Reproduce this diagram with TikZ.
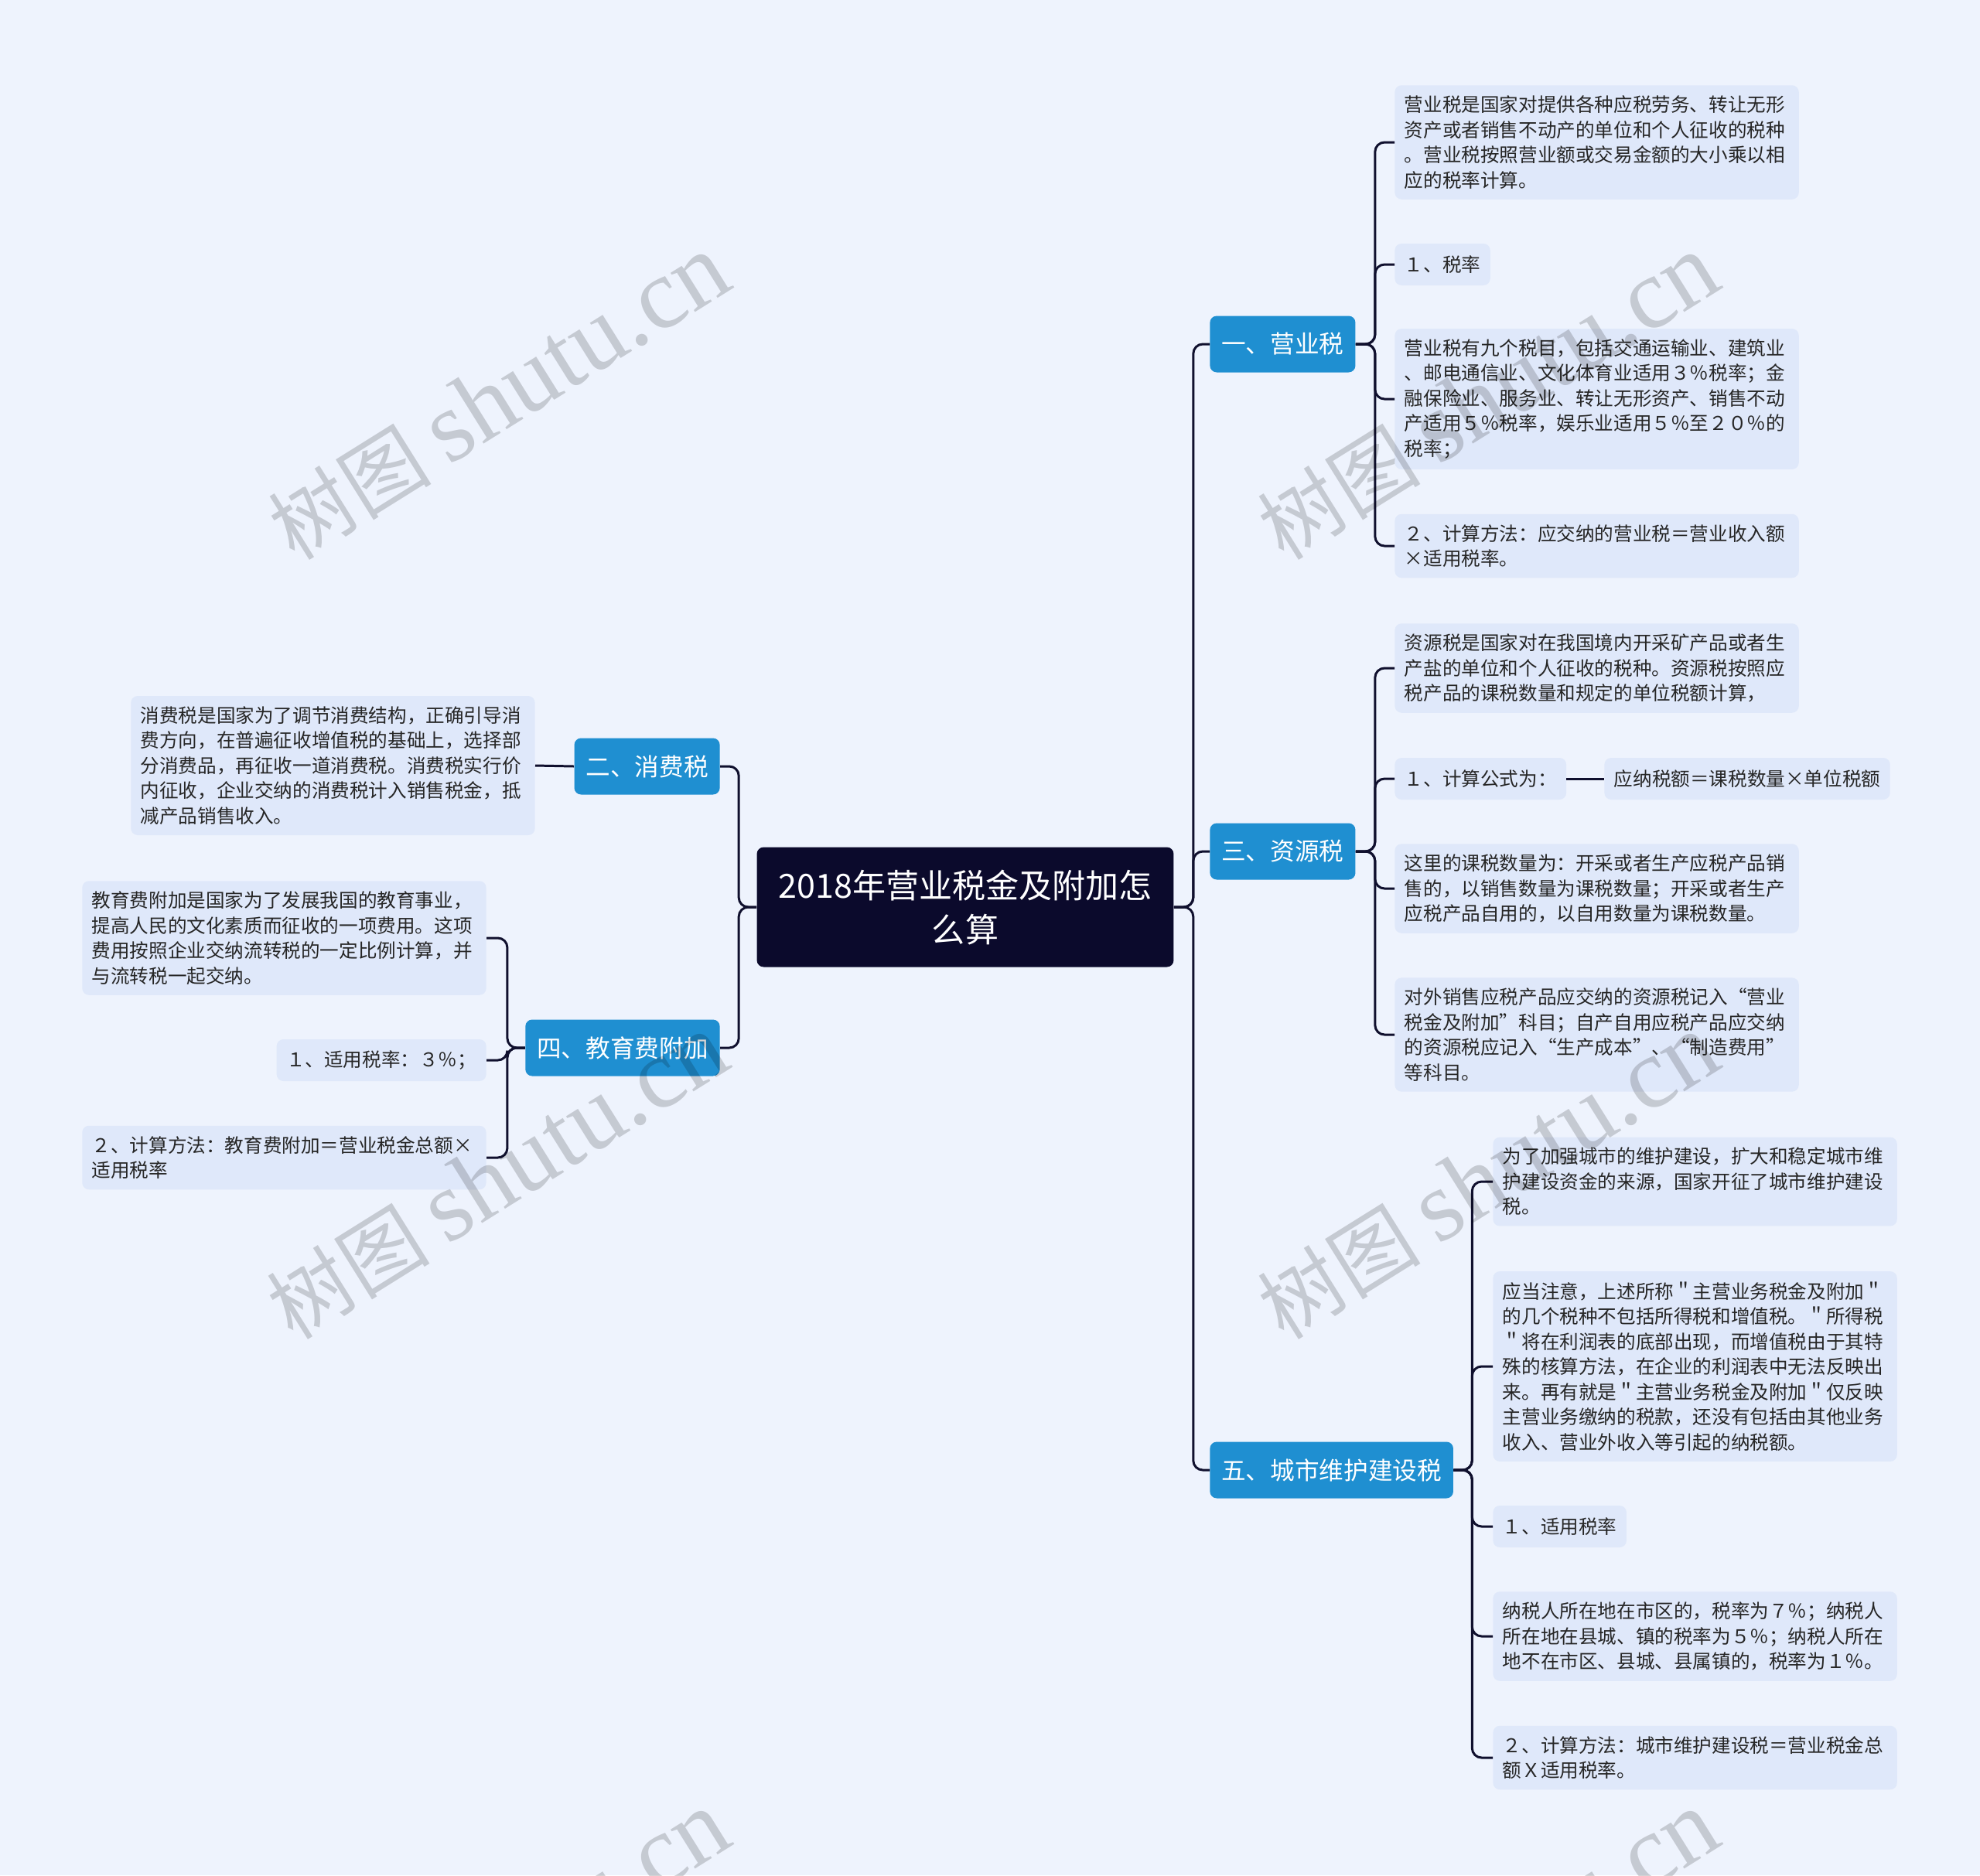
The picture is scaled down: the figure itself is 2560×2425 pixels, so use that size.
\documentclass[tikz,border=0pt]{standalone}
\usepackage{fontspec}
\setmainfont{Noto Sans CJK SC}
\newfontfamily\wmserif{Liberation Serif}
\usetikzlibrary{positioning}
\definecolor{bgblue}{HTML}{EEF3FD}
\definecolor{leafblue}{HTML}{DFE8FA}
\definecolor{branchblue}{HTML}{1F8FD1}
\definecolor{rootnavy}{HTML}{0B0A2C}
\definecolor{linknavy}{HTML}{10102E}
\begin{document}
\begin{tikzpicture}[x=0.02cm, y=-0.02cm,
    root/.style={fill=rootnavy, text=white, rounded corners=5pt, minimum width=10.78cm,
      minimum height=3.1cm, align=center, font=\fontsize{24.5}{32.4}\selectfont},
    branch/.style={fill=branchblue, text=white, rounded corners=5pt, minimum height=1.46cm,
      inner xsep=0.3cm, font=\fontsize{18}{22}\selectfont},
    leafbase/.style={fill=leafblue, text=black!85, rounded corners=5pt, inner xsep=0.25cm,
      inner ysep=0.27cm, font=\fontsize{14}{18.5}\selectfont},
    leaf/.style={leafbase, text width=9.95cm, align=left},
    leafshort/.style={leafbase, minimum height=1.08cm},
    link/.style={draw=linknavy, line width=1.7pt, rounded corners=7pt},
    wmark/.style={text=black, opacity=0.17, rotate=32, font=\fontsize{60}{60}\selectfont}]
  \useasboundingbox[fill=bgblue] (0,0) rectangle (2560,2425);

  % root and main branches
  \node[root] (tax) at (1248,1173) {2018年营业税金及附加怎\\么算};
  \node[branch, anchor=west] (yys) at (1564,445) {一、营业税};
  \node[branch, anchor=west] (zys) at (1564,1101) {三、资源税};
  \node[branch, anchor=west] (cjs) at (1564,1901) {五、城市维护建设税};
  \node[branch, anchor=east] (xfs) at (931,991) {二、消费税};
  \node[branch, anchor=east] (jyf) at (931,1355) {四、教育费附加};

  % 营业税
  \node[leaf, anchor=west] (y1) at (1803,184) {营业税是国家对提供各种应税劳务、转让无形\\资产或者销售不动产的单位和个人征收的税种\\。营业税按照营业额或交易金额的大小乘以相\\应的税率计算。};
  \node[leafshort, anchor=west] (y2) at (1803,342) {１、税率};
  \node[leaf, anchor=west] (y3) at (1803,516) {营业税有九个税目，包括交通运输业、建筑业\\、邮电通信业、文化体育业适用３％税率；金\\融保险业、服务业、转让无形资产、销售不动\\产适用５％税率，娱乐业适用５％至２０％的\\税率；};
  \node[leaf, anchor=west] (y4) at (1803,706) {２、计算方法：应交纳的营业税＝营业收入额\\×适用税率。};

  % 资源税
  \node[leaf, anchor=west] (z1) at (1803,864) {资源税是国家对在我国境内开采矿产品或者生\\产盐的单位和个人征收的税种。资源税按照应\\税产品的课税数量和规定的单位税额计算，};
  \node[leafshort, anchor=west] (z2) at (1803,1007) {１、计算公式为：};
  \node[leafshort, anchor=west] (z5) at (2074,1007) {应纳税额＝课税数量×单位税额};
  \node[leaf, anchor=west] (z3) at (1803,1149) {这里的课税数量为：开采或者生产应税产品销\\售的，以销售数量为课税数量；开采或者生产\\应税产品自用的，以自用数量为课税数量。};
  \node[leaf, anchor=west] (z4) at (1803,1338) {对外销售应税产品应交纳的资源税记入“营业\\税金及附加”科目；自产自用应税产品应交纳\\的资源税应记入“生产成本”、“制造费用”\\等科目。};

  % 城市维护建设税
  \node[leaf, anchor=west] (c1) at (1930,1528) {为了加强城市的维护建设，扩大和稳定城市维\\护建设资金的来源，国家开征了城市维护建设\\税。};
  \node[leaf, anchor=west] (c2) at (1930,1767) {应当注意，上述所称＂主营业务税金及附加＂\\的几个税种不包括所得税和增值税。＂所得税\\＂将在利润表的底部出现，而增值税由于其特\\殊的核算方法，在企业的利润表中无法反映出\\来。再有就是＂主营业务税金及附加＂仅反映\\主营业务缴纳的税款，还没有包括由其他业务\\收入、营业外收入等引起的纳税额。};
  \node[leafshort, anchor=west] (c3) at (1930,1974) {１、适用税率};
  \node[leaf, anchor=west] (c4) at (1930,2116) {纳税人所在地在市区的，税率为７％；纳税人\\所在地在县城、镇的税率为５％；纳税人所在\\地不在市区、县城、县属镇的，税率为１％。};
  \node[leaf, anchor=west] (c5) at (1930,2273) {２、计算方法：城市维护建设税＝营业税金总\\额Ｘ适用税率。};

  % 消费税, 教育费附加
  \node[leaf, anchor=east] (x1) at (692,990) {消费税是国家为了调节消费结构，正确引导消\\费方向，在普遍征收增值税的基础上，选择部\\分消费品，再征收一道消费税。消费税实行价\\内征收，企业交纳的消费税计入销售税金，抵\\减产品销售收入。};
  \node[leaf, anchor=east] (j1) at (629,1213) {教育费附加是国家为了发展我国的教育事业，\\提高人民的文化素质而征收的一项费用。这项\\费用按照企业交纳流转税的一定比例计算，并\\与流转税一起交纳。};
  \node[leafshort, anchor=east] (j2) at (629,1371) {１、适用税率：３％；};
  \node[leaf, anchor=east] (j3) at (629,1497) {２、计算方法：教育费附加＝营业税金总额×\\适用税率};

  % connectors
  \foreach \b in {yys,zys,cjs}
    \draw[link] (tax.east) -- ++(25,0) |- (\b.west);
  \foreach \b in {xfs,jyf}
    \draw[link] (tax.west) -- ++(-23,0) |- (\b.east);
  \foreach \c in {y1,y2,y3,y4}
    \draw[link] (yys.east) -- ++(25,0) |- (\c.west);
  \foreach \c in {z1,z2,z3,z4}
    \draw[link] (zys.east) -- ++(25,0) |- (\c.west);
  \foreach \c in {c1,c2,c3,c4,c5}
    \draw[link] (cjs.east) -- ++(24,0) |- (\c.west);
  \foreach \c in {j1,j2,j3}
    \draw[link] (jyf.west) -- ++(-23,0) |- (\c.east);
  \draw[link] (z2.east) -- (z5.west);
  \draw[link] (xfs.west) -- (x1.east);

  % watermarks
  \foreach \wx/\wy in {645/514, 1924/514, 643/1522, 1924/1522, 645/2527, 1924/2527}
    \node[wmark] at (\wx,\wy) {树图 {\wmserif\fontsize{74}{74}\selectfont shutu.cn}};
\end{tikzpicture}
\end{document}
